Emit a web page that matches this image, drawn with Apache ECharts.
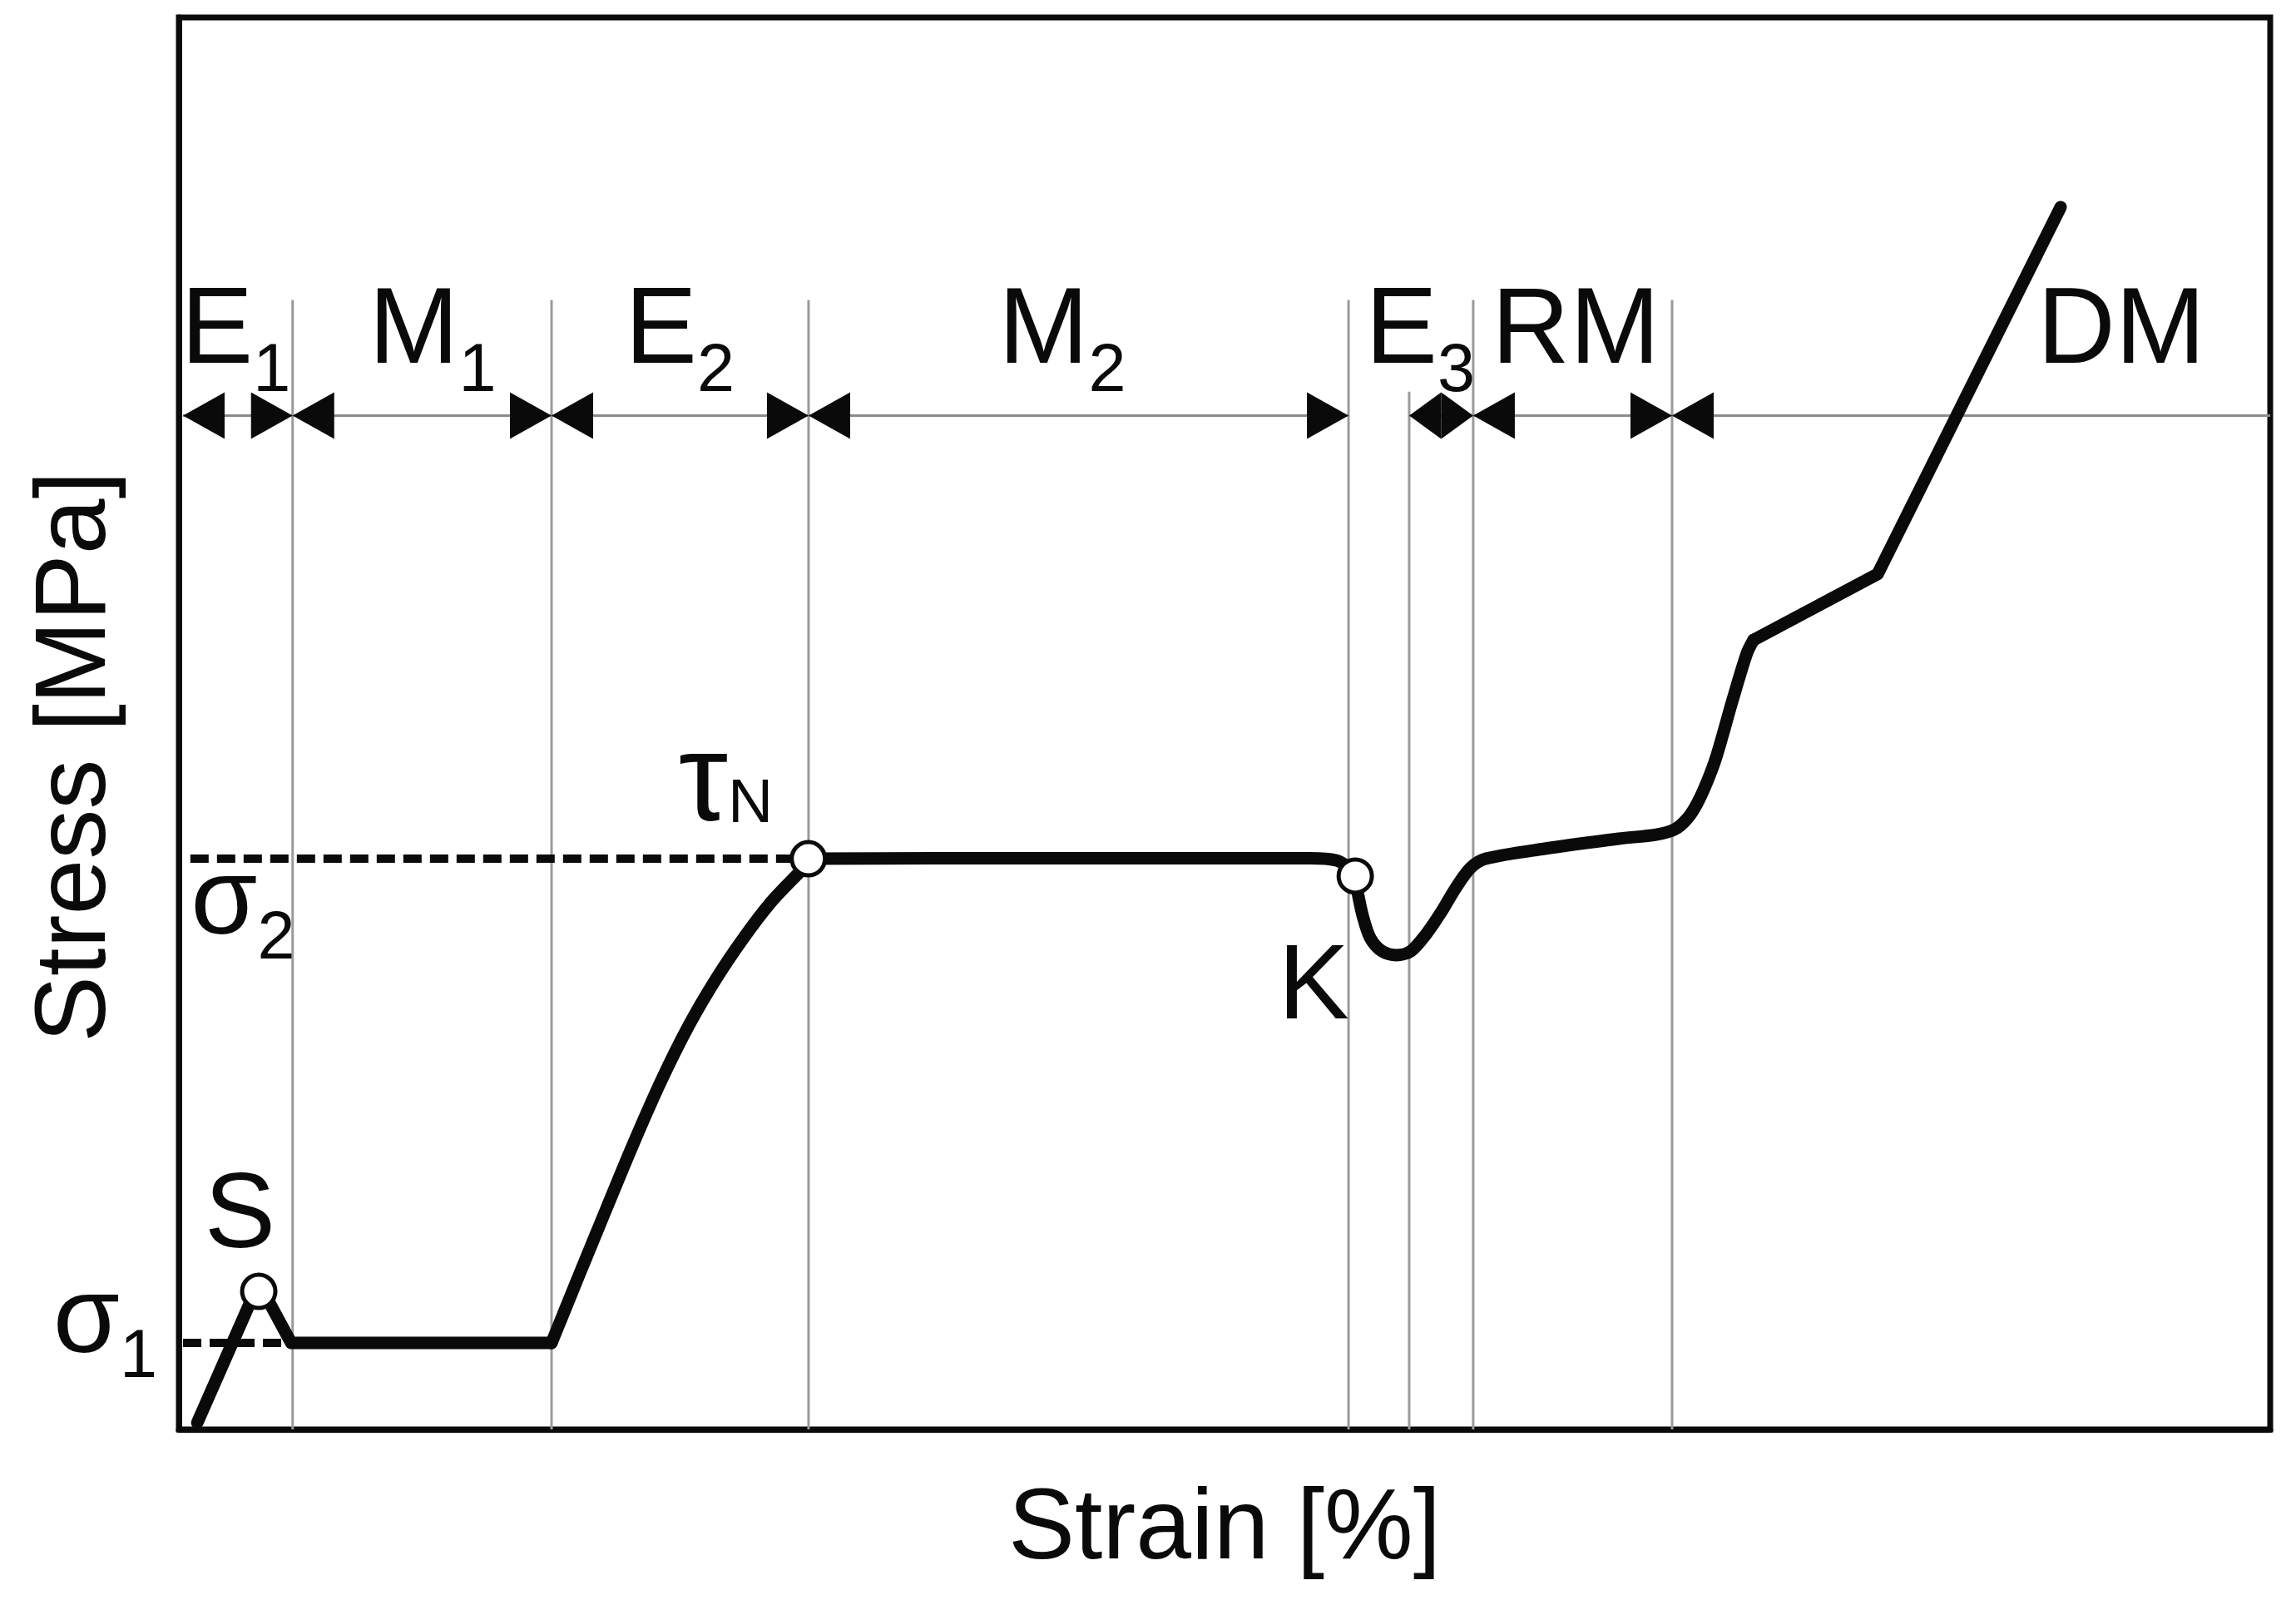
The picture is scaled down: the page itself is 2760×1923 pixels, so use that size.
<!DOCTYPE html>
<html><head><meta charset="utf-8">
<script src="https://cdn.jsdelivr.net/npm/echarts@6/dist/echarts.min.js"></script>
<style>html,body{margin:0;padding:0;background:#fff;}#c{width:2760px;height:1923px;}</style>
</head><body><div id="c"></div>
<script>
// ---------- data (strain %, stress, arbitrary 0-100 scale) ----------
const segLoading = [[0.88,0.47],[3.82,10.37],[5.37,6.13],[17.82,6.13]];
const segHardening = [[17.82,6.13],[19.13,10.9],[20.45,15.66],[21.76,20.33],[23.07,24.71],[24.38,28.6],[25.7,31.94],[27.01,34.82],[28.32,37.35],[29.63,39.39],[29.95,39.84]];
const segPlateau = [[30.1,40.42],[36,40.45],[42,40.45],[48,40.45],[54.1,40.45],[55.33,40.31],[55.89,39.84],[56.25,39.19],[56.37,38.01],[56.6,36.42],[56.96,34.83],[57.52,33.88],[58.23,33.59],[58.91,33.88],[59.63,35.06],[60.34,36.59],[61.06,38.36],[61.77,39.78],[62.49,40.42],[65.31,41.13],[68.85,41.84],[70.64,42.13],[71.52,42.49],[72.12,43.25],[72.59,44.31],[73.07,45.85],[73.51,47.61],[74.31,51.74],[74.98,54.98],[75.3,55.92]];
const segDensification = [[75.3,55.92],[81.23,60.58],[89.98,86.57]];
const keyPoints = [[3.82,9.78],[30.1,40.42],[56.25,39.19]];          // S, tauN, K
const sigma1Level = [[0.2,6.13],[5.37,6.13]];
const sigma2Level = [[0.55,40.42],[29.6,40.42]];

const boundaryX   = [5.44, 17.82, 30.11, 55.93, 58.83, 61.89, 71.4];
const boundaryTop = [80, 80, 80, 80, 73.5, 80, 80];

const phaseMain  = ['E','M','E','M','E','RM','DM'];
const phaseSub   = ['1','1','2','2','3','',''];
const phaseStart = [0.2, 5.44, 17.82, 30.11, 58.83, 61.89, 71.4];
const phaseEnd   = [5.44, 17.82, 30.11, 55.93, 61.89, 71.4, 100];
const phaseRightArrow = [1,1,1,1,1,1,0];
const phaseLabelX = [2.72, 12.13, 23.95, 42.24, 59.35, 66.79, 92.88];
const phaseLabelY = 75.31;
const dimLineY = 71.8;

const noteMain = ['S','K','σ','σ','τ'];
const noteSub  = ['','','1','2','N'];
const noteKind = ['point','point','sigma','sigma','tau'];
const noteX = [2.92, 54.26, -3.52, 3.06, 26.15];
const noteY = [12.67, 28.87, 5.19, 34.83, 42.84];

// ---------- styles ----------
const FONT = '"Liberation Sans", Arial, Helvetica, sans-serif';
const INK = '#0a0a0a';
const GREY = '#9a9a9a';
const labelStyle = {
  phase: {main:130, sub:81, drop:33},
  point: {main:128, sub:0, drop:0},
  sigma: {main:130, sub:81, drop:28},
  tau:   {main:150, sub:75, drop:0}
};

const mctx = document.createElement('canvas').getContext('2d');
function tw(t, size){ mctx.font = size + 'px ' + FONT; return mctx.measureText(t).width; }

const labels = [];
phaseMain.forEach((m,i)=>labels.push({main:m, sub:phaseSub[i], kind:'phase', x:phaseLabelX[i], y:phaseLabelY}));
noteMain.forEach((m,i)=>labels.push({main:m, sub:noteSub[i], kind:noteKind[i], x:noteX[i], y:noteY[i]}));

function renderLabel(params, api){
  const L = labels[params.dataIndex];
  const st = labelStyle[L.kind];
  const p = api.coord([L.x, L.y]);
  const wM = tw(L.main, st.main), wS = L.sub ? tw(L.sub, st.sub) : 0;
  const x0 = p[0] - (wM + wS)/2;
  const ch = [{type:'text', x:x0, y:p[1] - 0.31*st.main,
    style:{text:L.main, fontSize:st.main, fontFamily:FONT, fill:INK, align:'left', verticalAlign:'middle'}}];
  if (L.sub) ch.push({type:'text', x:x0 + wM, y:p[1] + st.drop - 0.31*st.sub,
    style:{text:L.sub, fontSize:st.sub, fontFamily:FONT, fill:INK, align:'left', verticalAlign:'middle'}});
  return {type:'group', children:ch};
}

const ARROW_L = 50, ARROW_H = 56;
function renderDim(params, api){
  const s = api.coord([api.value(0), api.value(2)]);
  const e = api.coord([api.value(1), api.value(2)]);
  const right = api.value(3);
  const L = Math.min(ARROW_L, (e[0]-s[0])/2);
  const y = s[1], h = ARROW_H/2;
  const ch = [{type:'line', shape:{x1:s[0], y1:y, x2:e[0], y2:y}, style:{stroke:'#8a8a8a', lineWidth:3}}];
  ch.push({type:'polygon', shape:{points:[[s[0],y],[s[0]+L,y-h],[s[0]+L,y+h]]}, style:{fill:INK}});
  if (right) ch.push({type:'polygon', shape:{points:[[e[0],y],[e[0]-L,y-h],[e[0]-L,y+h]]}, style:{fill:INK}});
  return {type:'group', children:ch};
}

function renderVLine(params, api){
  const t = api.coord([api.value(0), api.value(1)]);
  const b = api.coord([api.value(0), 0]);
  return {type:'line', shape:{x1:t[0], y1:t[1], x2:b[0], y2:b[1]}, style:{stroke:GREY, lineWidth:3}};
}

function curveStyle(){ return {color:INK, width:15, cap:'round', join:'round', opacity:1}; }
function curveSeries(data, smooth){
  return {type:'line', data:data, symbol:'none', smooth:smooth, lineStyle:curveStyle(), itemStyle:{color:INK}, z:4, silent:true};
}
const chart = echarts.init(document.getElementById('c'), null, {renderer:'canvas'});
chart.setOption({
  backgroundColor:'#fff',
  animation:false,
  grid:{left:215, top:21, right:31, bottom:205, show:true, borderColor:INK, borderWidth:7, backgroundColor:'transparent'},
  xAxis:{type:'value', min:0, max:100, axisLine:{show:true, lineStyle:{color:INK, width:7}}, axisTick:{show:false}, axisLabel:{show:false}, splitLine:{show:false},
    name:'Strain [%]', nameLocation:'middle', nameGap:62, nameTextStyle:{fontSize:120, fontFamily:FONT, color:INK}},
  yAxis:{type:'value', min:0, max:100, axisLine:{show:true, lineStyle:{color:INK, width:7}}, axisTick:{show:false}, axisLabel:{show:false}, splitLine:{show:false},
    name:'Stress [MPa]', nameLocation:'middle', nameGap:62, nameTextStyle:{fontSize:120, fontFamily:FONT, color:INK, padding:[0,80,0,0]}},
  series:[
    {type:'custom', renderItem:renderVLine, data:boundaryX.map((x,i)=>[x, boundaryTop[i]]), z:1, silent:true, clip:false},
    {type:'custom', renderItem:renderDim, data:phaseStart.map((s,i)=>[s, phaseEnd[i], dimLineY, phaseRightArrow[i]]), z:2, silent:true, clip:false},
    {type:'line', data:sigma1Level, symbol:'none', silent:true, lineStyle:{color:INK, width:10, type:[22,10], opacity:1}, z:3},
    {type:'line', data:sigma2Level, symbol:'none', silent:true, lineStyle:{color:INK, width:10, type:[22,10], opacity:1}, z:3},
    curveSeries(segLoading, false),
    curveSeries(segHardening, 0.3),
    curveSeries(segPlateau, 0.3),
    curveSeries(segDensification, false),
    {type:'scatter', data:keyPoints, symbol:'circle', symbolSize:40, silent:true,
      itemStyle:{color:'#ffffff', borderColor:INK, borderWidth:5, opacity:1}, z:6},
    {type:'custom', renderItem:renderLabel, data:labels.map(l=>[l.x, l.y]), z:7, silent:true, clip:false}
  ]
});
</script></body></html>
